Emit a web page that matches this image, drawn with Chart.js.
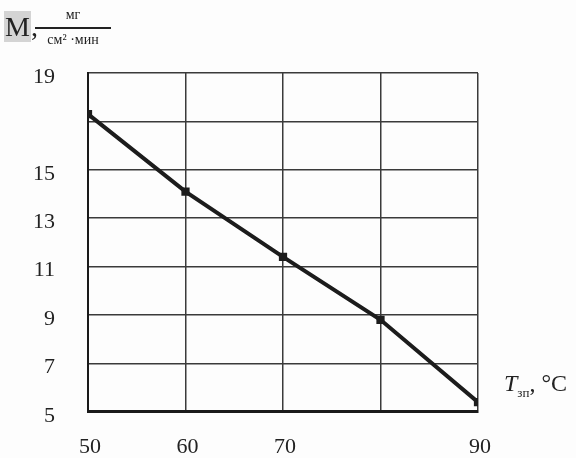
<!DOCTYPE html>
<html>
<head>
<meta charset="utf-8">
<script src="https://cdn.jsdelivr.net/npm/chart.js@4.4.0/dist/chart.umd.min.js"></script>
<style>
  html, body { margin: 0; padding: 0; background: #fdfdfd; }
  #wrap { position: relative; width: 576px; height: 458px; overflow: hidden; }
  canvas { position: absolute; left: 0; top: 0; }
  .lbl { position: absolute; font-family: "Liberation Serif", "DejaVu Serif", serif; color: #222; white-space: nowrap; }
  #mTitle { left: 4px; top: 11px; font-size: 28px; }
  #mTitle .m { background: #d4d4d4; padding: 0 1px; }
  #frac { position: absolute; left: 35px; top: 2px; width: 76px; text-align: center; font-family: "Liberation Serif", serif; color: #222; }
  #frac .num { font-size: 14px; line-height: 25px; }
  #frac .bar { height: 2px; background: #222; }
  #frac .den { font-size: 14px; line-height: 22px; }
  #xTitle { left: 504px; top: 370px; font-size: 24px; }
  #xTitle sub { font-size: 13px; }
</style>
</head>
<body>
<div id="wrap">
  <canvas id="massChart" width="576" height="458"></canvas>
  <div class="lbl" id="mTitle"><span class="m">M</span>,</div>
  <div id="frac">
    <div class="num">мг</div>
    <div class="bar"></div>
    <div class="den">см² ·мин</div>
  </div>
  <div class="lbl" id="xTitle"><i>T</i><sub>зп</sub>, °C</div>
</div>
<script>
// temperature of electrolyte, °C
const temps = [50, 60, 70, 80, 90];
// mass loss rate M, mg/(cm2*min)
const massRate = [17.3, 14.1, 11.4, 8.8, 5.4];
// tick labels shown on the axes (80 and 17 are not printed in the original)
const xTickLabels = ["50", "60", "70", "", "90"];
const yTickLabels = { 5: "5", 7: "7", 9: "9", 11: "11", 13: "13", 15: "15", 17: "", 19: "19" };

const ctx = document.getElementById("massChart").getContext("2d");

const config = {
  type: "line",
  data: {
    datasets: [
      {
        data: temps.map((t, i) => ({ x: t, y: massRate[i] })),
        borderColor: "#1c1c1c",
        borderWidth: 4,
        pointStyle: "rect",
        pointRadius: 3,
        pointBackgroundColor: "#1c1c1c",
        pointBorderColor: "#1c1c1c",
        tension: 0,
        fill: false,
      },
    ],
  },
  options: {
    responsive: false,
    animation: false,
    layout: {
      // negative bottom padding lets the x scale box run past the canvas so labels aren't clipped
      padding: { left: 0, top: 73, right: 98, bottom: -24 },
    },
    plugins: {
      legend: { display: false },
      tooltip: { enabled: false },
    },
    scales: {
      x: {
        type: "linear",
        min: 50,
        max: 90,
        afterFit: function (scale) {
          scale.height = 60;
        },
        grid: {
          color: "#3a3a3a",
          lineWidth: 1.5,
          drawTicks: false,
        },
        border: { color: "#1a1a1a", width: 3 },
        ticks: {
          stepSize: 10,
          padding: 22,
          labelOffset: 2,
          color: "#222",
          font: { family: "Liberation Serif", size: 22 },
          callback: function (value) {
            return xTickLabels[temps.indexOf(value)];
          },
        },
      },
      y: {
        min: 5,
        max: 19,
        afterFit: function (scale) {
          scale.width = 88;
        },
        grid: {
          color: "#3a3a3a",
          lineWidth: 1.5,
          drawTicks: false,
        },
        border: { color: "#1a1a1a", width: 2 },
        ticks: {
          stepSize: 2,
          padding: 33,
          labelOffset: 4,
          color: "#222",
          font: { family: "Liberation Serif", size: 22 },
          callback: function (value) {
            return yTickLabels[value];
          },
        },
      },
    },
  },
};
const massChart = new Chart(ctx, config);
</script>
</body>
</html>
